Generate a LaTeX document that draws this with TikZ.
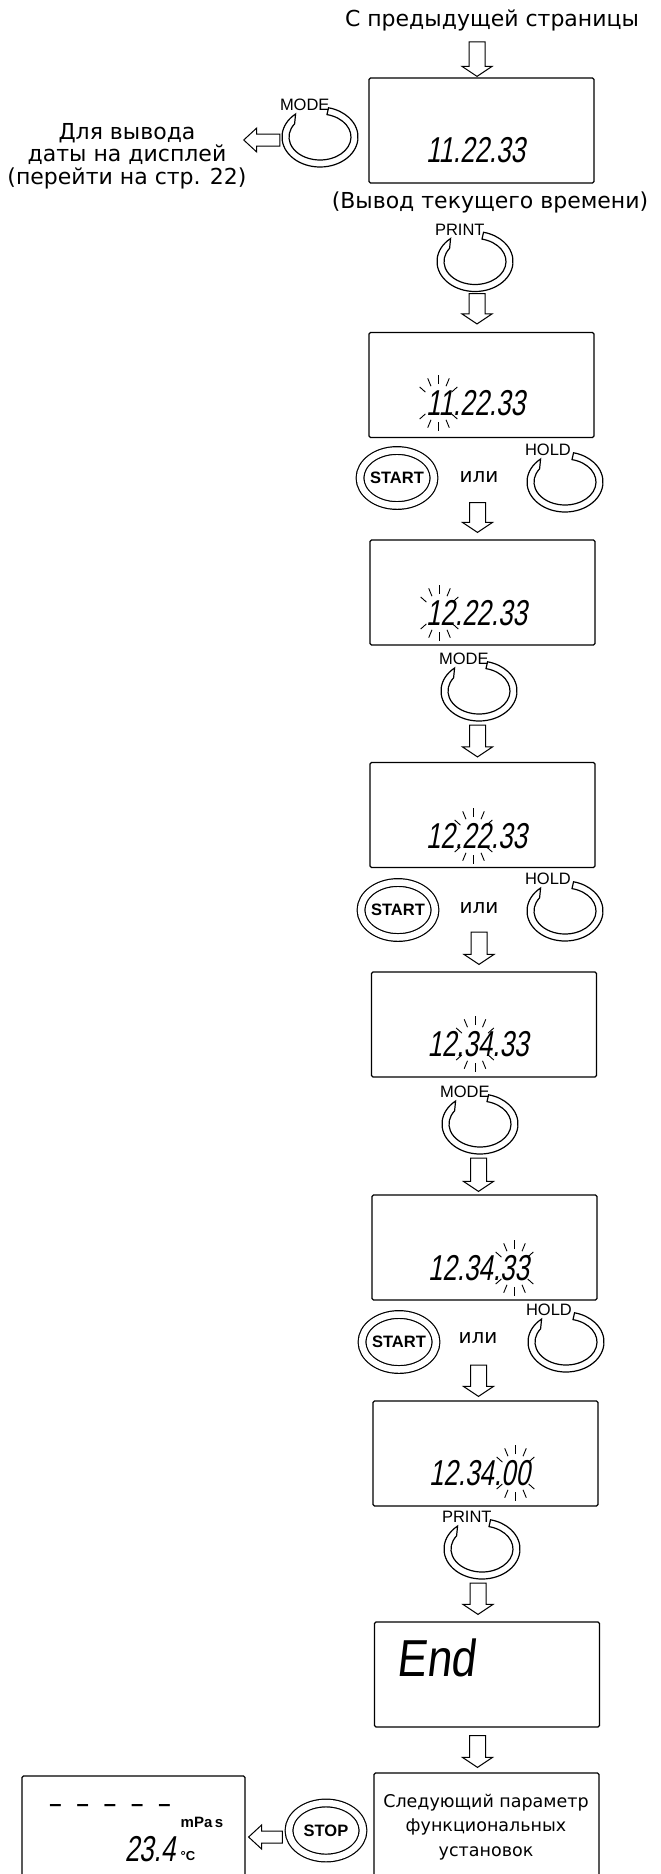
\documentclass[tikz,border=0pt]{standalone}
\usepackage{fontspec}
\setmainfont{DejaVu Sans}
\newfontfamily\keyfont{Liberation Sans}
\newfontfamily\lcdfont{Liberation Sans}[FakeSlant=0.18,FakeStretch=0.72]
\newfontfamily\endfont{Liberation Sans}[FakeSlant=0.12,FakeStretch=0.85]
\usetikzlibrary{calc,shapes.geometric}

% hollow block arrow pointing down, x taken from the tip
\newcommand\downblock[2]{%
  \draw[hollow] let \p1=#1, \p2=#2 in
    (\x2-8pt,\y1) -- (\x2+8pt,\y1) -- (\x2+8pt,\y2+10pt) -- (\x2+15pt,\y2+10pt)
    -- (\x2,\y2) -- (\x2-15pt,\y2+10pt) -- (\x2-8pt,\y2+10pt) -- cycle;}
% hollow block arrow pointing left, y taken from the back
\newcommand\leftblock[2]{%
  \draw[hollow] let \p1=#1, \p2=#2 in
    (\x1,\y1-6pt) -- (\x1,\y1+6pt) -- (\x2+13pt,\y1+6pt) -- (\x2+13pt,\y1+12pt)
    -- (\x2,\y1) -- (\x2+13pt,\y1-12pt) -- (\x2+13pt,\y1-6pt) -- cycle;}
% key with a round arrow and its name on top
\newcommand\ringkey[3]{%
  \node[keyspot] (#1) at (#2) {};
  \draw[keyline] ([shift={(130:38pt and 30pt)}]#1.center)
    arc[start angle=130, end angle=437, x radius=38pt, y radius=30pt]
    -- ([shift={(437:31pt and 23pt)}]#1.center)
    arc[start angle=437, end angle=145, x radius=31pt, y radius=23pt] -- cycle;
  \node[keylabel] (#1lbl) at ([xshift=-2pt,yshift=-4pt]#1.north west) {#3};}
% flashing marks round a digit pair
\newcommand\blink[1]{%
  \foreach \a in {35,62,90,118,145}{
    \draw[ray] ([shift={(\a:16pt and 19pt)}]#1) -- ([shift={(\a:23pt and 28pt)}]#1);
    \draw[ray] ([shift={(-\a:16pt and 19pt)}]#1) -- ([shift={(-\a:23pt and 28pt)}]#1);}}

\begin{document}
\begin{tikzpicture}
[x=1pt, y=1pt,
lcd/.style={draw, line width=1.2pt, rounded corners=1.5pt, minimum width=225pt, minimum height=105pt, inner sep=0pt},
digits/.style={font=\lcdfont\fontsize{36}{36}\selectfont, inner sep=0pt},
note/.style={font=\fontsize{22}{22.5}\selectfont, inner sep=0pt, align=center},
hollow/.style={draw, line width=1pt, fill=white, line join=miter},
keyspot/.style={minimum width=76pt, minimum height=60pt, inner sep=0pt},
keyline/.style={draw, line width=1.2pt, fill=white},
keylabel/.style={font=\keyfont\fontsize{16.5}{16.5}\selectfont, inner sep=0pt, anchor=base west},
pushkey/.style={ellipse, draw, line width=1.2pt, double, double distance=6.5pt, minimum width=74pt, minimum height=55pt, inner sep=0pt, inner xsep=-3pt, font=\keyfont\bfseries\fontsize{16.5}{16.5}\selectfont},
ray/.style={line width=0.9pt},
]
\useasboundingbox (0,0) rectangle (661,-1874);
\clip (0,0) rectangle (661,-1874);

% current time
\node[note] (fromprev) at (492,-20) {С предыдущей страницы};
\node[lcd] (now) at (481.5,-130.5) {};
\node[digits] (nowval) at ([xshift=-6pt,yshift=-19.5pt]now.center) {11.22.33};
\node[note] (nowcap) at (490,-202) {(Вывод текущего времени)};
\ringkey{modeA}{320,-137}{MODE}
\node[note] (todate) at (127,-156) {Для вывода\\даты на дисплей\\(перейти на стр. 22)};
\ringkey{printA}{475,-261.5}{PRINT}

% hours
\node[lcd] (hourA) at (481.5,-385) {};
\node[digits] (hourAval) at ([xshift=-6pt,yshift=-18pt]hourA.center) {11.22.33};
\coordinate (hourAfl) at ([xshift=-37pt]hourAval.center);
\blink{hourAfl}
\node[pushkey] (startA) at (397,-478) {START};
\node[note, font=\fontsize{20}{20}\selectfont] (orA) at (479,-477) {или};
\ringkey{holdA}{565,-482}{HOLD}
\node[lcd] (hourB) at (482.5,-592.5) {};
\node[digits] (hourBval) at ([xshift=-6pt,yshift=-20.5pt]hourB.center) {12.22.33};
\coordinate (hourBfl) at ([xshift=-37pt]hourBval.center);
\blink{hourBfl}
\ringkey{modeB}{479,-691}{MODE}

% minutes
\node[lcd] (minA) at (482.5,-815) {};
\node[digits] (minAval) at ([xshift=-6pt,yshift=-21pt]minA.center) {12.22.33};
\coordinate (minAfl) at ([xshift=-3pt]minAval.center);
\blink{minAfl}
\node[pushkey] (startB) at (398,-910) {START};
\node[note, font=\fontsize{20}{20}\selectfont] (orB) at (479,-908) {или};
\ringkey{holdB}{565,-911}{HOLD}
\node[lcd] (minB) at (484,-1024.5) {};
\node[digits] (minBval) at ([xshift=-6pt,yshift=-19.5pt]minB.center) {12.34.33};
\coordinate (minBfl) at ([xshift=-3pt]minBval.center);
\blink{minBfl}
\ringkey{modeC}{480,-1124}{MODE}

% seconds
\node[lcd] (secA) at (484.5,-1247.5) {};
\node[digits] (secAval) at ([xshift=-6pt,yshift=-20.5pt]secA.center) {12.34.33};
\coordinate (secAfl) at ([xshift=36pt]secAval.center);
\blink{secAfl}
\node[pushkey] (startC) at (399,-1342) {START};
\node[note, font=\fontsize{20}{20}\selectfont] (orC) at (478,-1338) {или};
\ringkey{holdC}{566,-1342}{HOLD}
\node[lcd] (secB) at (485.5,-1453.5) {};
\node[digits] (secBval) at ([xshift=-6pt,yshift=-19.5pt]secB.center) {12.34.00};
\coordinate (secBfl) at ([xshift=36pt]secBval.center);
\blink{secBfl}
\ringkey{printB}{482,-1549}{PRINT}

% end and leaving
\node[lcd] (done) at (487,-1674.5) {};
\node[inner sep=0pt, font=\endfont\fontsize{52}{52}\selectfont] (doneval) at ([xshift=-51pt,yshift=17pt]done.center) {End};
\node[lcd, minimum height=140pt] (nextfn) at (486.5,-1843) {};
\node[note, font=\fontsize{17.5}{24.5}\selectfont] (nextfntxt) at (486,-1827) {Следующий параметр\\функциональных\\установок};
\node[pushkey] (stopkey) at (326,-1830.5) {STOP};
\node[lcd, minimum width=223pt, minimum height=140pt] (idle) at (133.5,-1846) {};
\node[inner sep=0pt, font=\keyfont\bfseries\fontsize{22}{22}\selectfont] (idledash) at (110,-1808) {–\hspace{15pt}–\hspace{15pt}–\hspace{15pt}–\hspace{15pt}–};
\node[inner sep=0pt, font=\keyfont\bfseries\fontsize{15}{15}\selectfont] (idleunit) at (202,-1822) {mPa\,s};
\node[digits] (idleval) at (150,-1849) {23.4};
\node[inner sep=0pt, font=\keyfont\bfseries\fontsize{13}{13}\selectfont] (idledeg) at (188,-1856) {°C};

% block arrows
\downblock{([yshift=-11pt]fromprev.south)}{([xshift=-4.5pt,yshift=1pt]now.north)}
\downblock{([yshift=-2pt]printA.south)}{([xshift=-4.5pt,yshift=8pt]hourA.north)}
\downblock{([yshift=-20pt]orA.south)}{([xshift=-5pt,yshift=7pt]hourB.north)}
\downblock{([yshift=-4pt]modeB.south)}{([xshift=-5pt,yshift=5pt]minA.north)}
\downblock{([yshift=-18.5pt]orB.south)}{([xshift=-5pt,yshift=7pt]minB.north)}
\downblock{([yshift=-4pt]modeC.south)}{([xshift=-6pt,yshift=3pt]secA.north)}
\downblock{([yshift=-21.5pt]orC.south)}{([xshift=-7pt,yshift=4pt]secB.north)}
\downblock{([yshift=-4pt]printB.south)}{([xshift=-9pt,yshift=7pt]done.north)}
\downblock{([yshift=-8pt]done.south)}{([xshift=-9pt,yshift=5pt]nextfn.north)}
\leftblock{([xshift=-2pt,yshift=-3pt]modeA.west)}{([xshift=-3pt]todate.east)}
\leftblock{([xshift=-6pt,yshift=-6.5pt]stopkey.west)}{([xshift=3pt]idle.east)}
\end{tikzpicture}
\end{document}
